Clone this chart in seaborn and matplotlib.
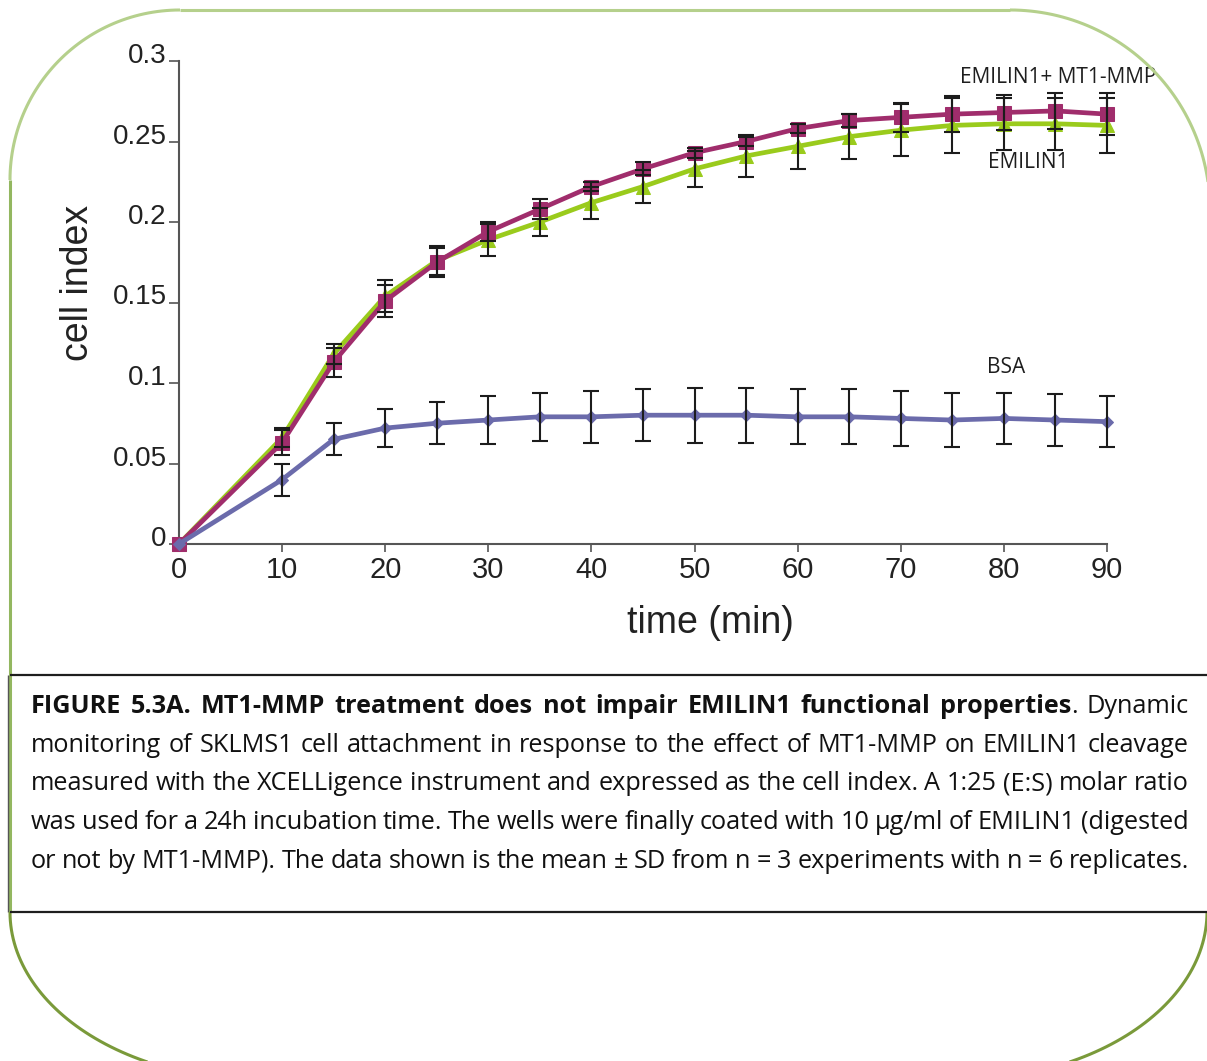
import matplotlib
matplotlib.use("Agg")
import matplotlib.pyplot as plt
import numpy as np
import pandas as pd
import seaborn as sns
from matplotlib.lines import Line2D
from matplotlib.transforms import Affine2D, ScaledTranslation

W, H, DPI = 1207, 1061, 100

# cell index (mean and SD)
time_min = [0, 10, 15, 20, 25, 30, 35, 40, 45, 50, 55, 60, 65, 70, 75, 80, 85, 90]
emilin1_mmp = [0, 0.063, 0.113, 0.151, 0.175, 0.194, 0.208, 0.222, 0.233, 0.243, 0.250,
               0.258, 0.263, 0.265, 0.267, 0.268, 0.269, 0.267]
emilin1_mmp_sd = [0, 0.008, 0.009, 0.010, 0.009, 0.006, 0.006, 0.003, 0.004, 0.003, 0.003,
                  0.003, 0.004, 0.009, 0.011, 0.011, 0.011, 0.013]
emilin1 = [0, 0.066, 0.118, 0.154, 0.176, 0.189, 0.200, 0.212, 0.222, 0.233, 0.241,
           0.247, 0.253, 0.257, 0.260, 0.261, 0.261, 0.260]
emilin1_sd = [0, 0.006, 0.006, 0.010, 0.009, 0.010, 0.009, 0.010, 0.010, 0.011, 0.013,
              0.014, 0.014, 0.016, 0.017, 0.016, 0.016, 0.017]
bsa = [0, 0.040, 0.065, 0.072, 0.075, 0.077, 0.079, 0.079, 0.080, 0.080, 0.080,
       0.079, 0.079, 0.078, 0.077, 0.078, 0.077, 0.076]
bsa_sd = [0, 0.010, 0.010, 0.012, 0.013, 0.015, 0.015, 0.016, 0.016, 0.017, 0.017,
          0.017, 0.017, 0.017, 0.017, 0.016, 0.016, 0.016]

x_ticks = [0, 10, 20, 30, 40, 50, 60, 70, 80, 90]
y_ticks = [0, 0.05, 0.1, 0.15, 0.2, 0.25, 0.3]
y_tick_labels = ["0", "0.05", "0.1", "0.15", "0.2", "0.25", "0.3"]

caption_lines = [
    "FIGURE 5.3A. MT1-MMP treatment does not impair EMILIN1 functional properties. Dynamic",
    "monitoring of SKLMS1 cell attachment in response to the effect of MT1-MMP on EMILIN1 cleavage",
    "measured with the XCELLigence instrument and expressed as the cell index. A 1:25 (E:S) molar ratio",
    "was used for a 24h incubation time. The wells were finally coated with 10 µg/ml of EMILIN1 (digested",
    "or not by MT1-MMP). The data shown is the mean ± SD from n = 3 experiments with n = 6 replicates.",
]
n_bold_words = 10

sns.set_theme(style="white")
plt.rcParams["font.family"] = ["Liberation Sans", "DejaVu Sans"]

frames = []
for name, vals, sd in [("EMILIN1", emilin1, emilin1_sd),
                       ("EMILIN1+ MT1-MMP", emilin1_mmp, emilin1_mmp_sd),
                       ("BSA", bsa, bsa_sd)]:
    frames.append(pd.DataFrame({"time": time_min, "cell_index": vals, "sd": sd,
                                "condition": name}))
df = pd.concat(frames, ignore_index=True)

styles = {
    "EMILIN1": dict(color="#9acb1c", marker="^", markersize=10.5),
    "EMILIN1+ MT1-MMP": dict(color="#a02d6c", marker="s", markersize=10.5),
    "BSA": dict(color="#6b6bab", marker="D", markersize=6.5),
}

fig = plt.figure(figsize=(W / DPI, H / DPI), dpi=DPI)
ax = fig.add_axes([179 / W, 1 - 544 / H, 928 / W, 483 / H])

for name, st in styles.items():
    sub = df[df["condition"] == name]
    sns.lineplot(data=sub, x="time", y="cell_index", ax=ax, color=st["color"],
                 marker=st["marker"], markersize=st["markersize"],
                 markeredgecolor=st["color"], linewidth=3.4, errorbar=None,
                 legend=False, clip_on=False, zorder=3)
    err = sub[sub["time"] > 0]
    ax.errorbar(err["time"], err["cell_index"], yerr=err["sd"], fmt="none",
                ecolor="#1c1c1c", elinewidth=1.5, capsize=5.5, capthick=1.5,
                zorder=5, clip_on=False)

ax.set_xlim(0, 90)
ax.set_ylim(0, 0.3)
ax.set_xticks(x_ticks)
ax.set_yticks(y_ticks)
ax.set_yticklabels(y_tick_labels)
sns.despine(ax=ax)
for side in ["left", "bottom"]:
    ax.spines[side].set_color("#555555")
    ax.spines[side].set_linewidth(1.5)
ax.tick_params(axis="y", direction="out", length=7.5, width=1.2, color="#555555",
               labelsize=20, labelcolor="#222222", pad=1.5, left=True)
ax.tick_params(axis="x", direction="out", length=5.5, width=1.2, color="#555555",
               labelsize=21, labelcolor="#222222", pad=3, bottom=True)
for lbl in ax.get_yticklabels():
    lbl.set_transform(lbl.get_transform() + ScaledTranslation(0, 8 / DPI, fig.dpi_scale_trans))

ax.set_xlabel("time (min)", fontsize=27, color="#222222")
ax.set_ylabel("cell index", fontsize=27, color="#222222")
ax.xaxis.set_label_coords((710 - 179) / 928, (544 - 623) / 483)
ax.xaxis.label.set_verticalalignment("center")
ax.yaxis.set_label_coords((78 - 179) / 928, (544 - 283) / 483)
ax.yaxis.label.set_verticalalignment("center")

lab_font = dict(fontsize=15, color="#1e1e1e", family=["Open Sans", "DejaVu Sans"],
                ha="center", va="baseline", clip_on=False)
ax.text(85.3, 0.2865, "EMILIN1+ MT1-MMP", **lab_font)
ax.text(82.4, 0.2335, "EMILIN1", **lab_font)
ax.text(80.2, 0.1065, "BSA", **lab_font)

# page decoration in pixel coordinates (y downwards)
px = Affine2D().scale(1 / W, -1 / H).translate(0, 1) + fig.transFigure


def add_line(xs, ys, color, lw):
    fig.add_artist(Line2D(xs, ys, color=color, lw=lw, transform=px,
                          solid_capstyle="butt"))


th = np.linspace(np.pi, 1.5 * np.pi, 60)
add_line(180 + 170 * np.cos(th), 180 + 170 * np.sin(th), "#b5d08c", 2.2)
add_line([180, 1010], [10, 10], "#b5d08c", 2.2)
th = np.linspace(1.5 * np.pi, 2 * np.pi, 60)
add_line(1010 + 200 * np.cos(th), 210 + 200 * np.sin(th), "#b5d08c", 2.2)
add_line([10, 10], [180, 912], "#93b760", 2.2)
add_line([8, 8], [675, 912], "#555555", 1.0)
th = np.linspace(np.pi / 2, np.pi, 60)
add_line(260 + 250 * np.cos(th), 912 + 168 * np.sin(th), "#7a9a3a", 2.2)
th = np.linspace(0, np.pi / 2, 60)
add_line(957 + 250 * np.cos(th), 912 + 168 * np.sin(th), "#7a9a3a", 2.2)
add_line([10, 1207], [675, 675], "#1e1e1e", 1.6)
add_line([10, 1207], [912, 912], "#1e1e1e", 1.6)

# justified caption
cap_font = ["Open Sans", "DejaVu Sans"]
cap_size = 15.5
renderer = fig.canvas.get_renderer()


def text_width(s, weight, size):
    t = fig.text(0, 0, s, fontsize=size, fontweight=weight, family=cap_font)
    w = t.get_window_extent(renderer).width
    t.remove()
    return w


def line_tokens(i, line):
    toks = []
    for j, word in enumerate(line.split()):
        if i == 0 and j < n_bold_words - 1:
            toks.append([(word, "bold")])
        elif i == 0 and j == n_bold_words - 1:
            toks.append([(word[:-1], "bold"), (word[-1], "normal")])
        else:
            toks.append([(word, "normal")])
    return toks


x_left, x_right = 31, 1189
space = text_width("a a", "normal", cap_size) - text_width("aa", "normal", cap_size)
natural = []
for i, line in enumerate(caption_lines):
    toks = line_tokens(i, line)
    widths = sum(text_width(s, w, cap_size) for tok in toks for s, w in tok)
    natural.append(widths + 0.8 * space * (len(toks) - 1))
cap_size *= (x_right - x_left) / max(natural)

for i, line in enumerate(caption_lines):
    toks = line_tokens(i, line)
    seg_w = [[text_width(s, w, cap_size) for s, w in tok] for tok in toks]
    total = sum(sum(ws) for ws in seg_w)
    gap = (x_right - x_left - total) / (len(toks) - 1)
    y = 713 + 38.75 * i
    x = x_left
    for tok, ws in zip(toks, seg_w):
        for (s, w), sw in zip(tok, ws):
            fig.text(x / W, 1 - y / H, s, fontsize=cap_size, fontweight=w,
                     family=cap_font, color="#111111", ha="left", va="baseline")
            x += sw
        x += gap

fig.savefig("out.png", dpi=DPI)
plt.close(fig)
